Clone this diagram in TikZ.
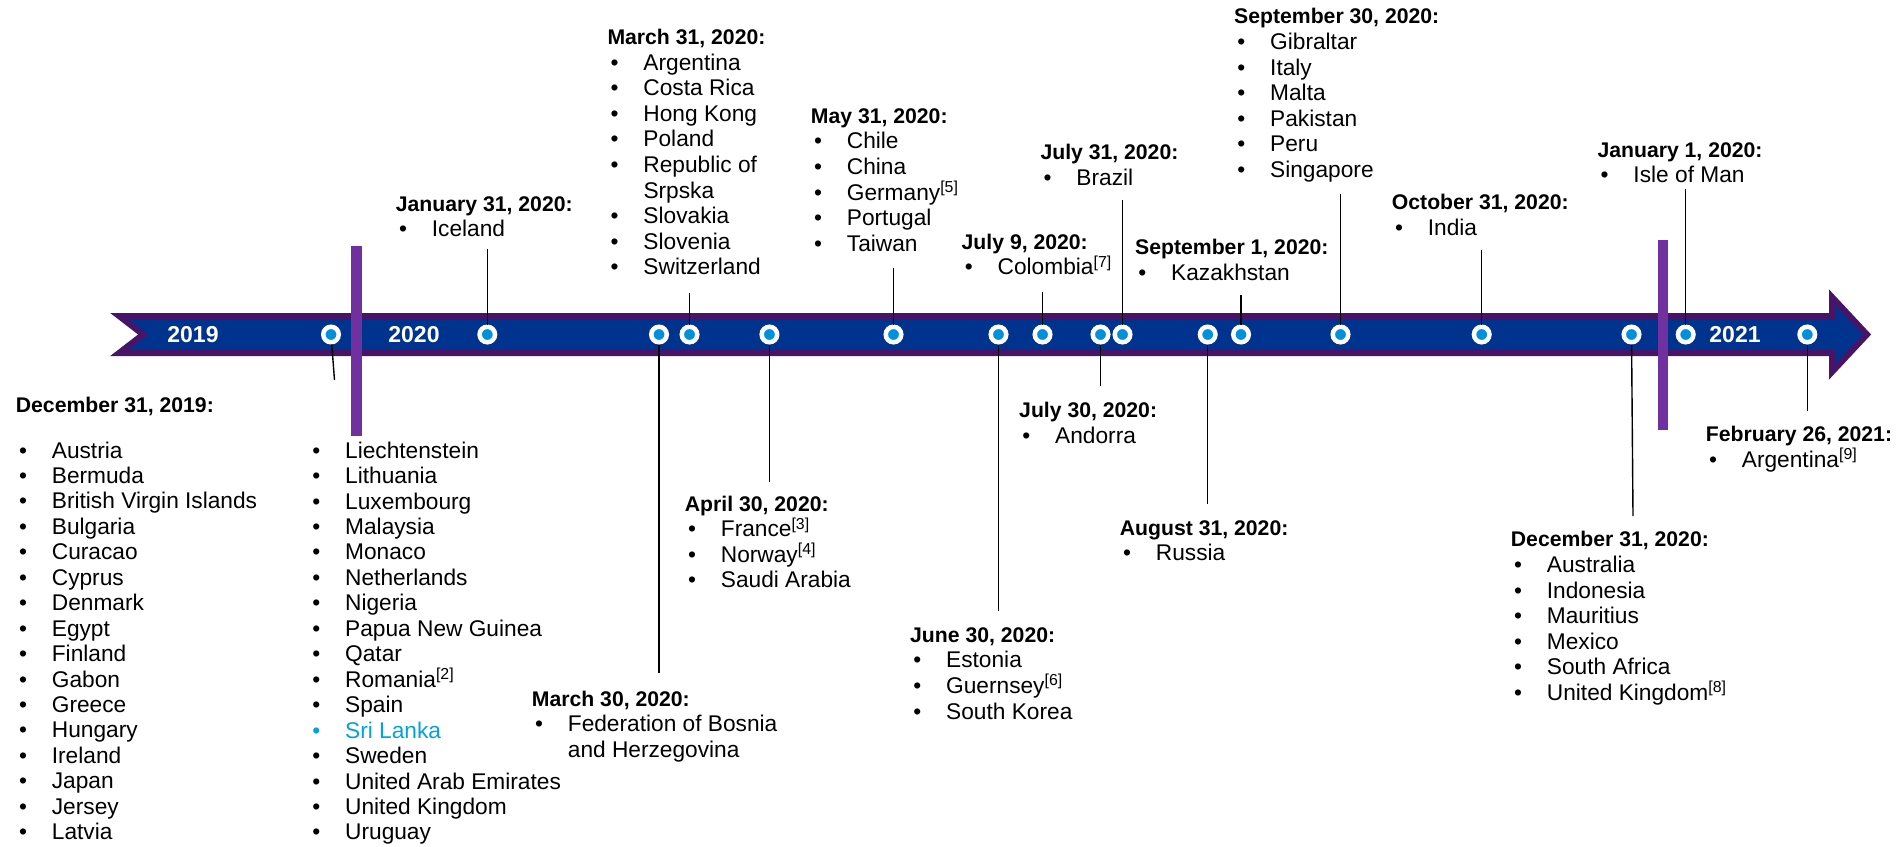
\documentclass[tikz,border=0pt]{standalone}
\usepackage{fontspec}
\setmainfont{Liberation Sans}
\usetikzlibrary{positioning}
\definecolor{kNavy}{RGB}{0,51,141}
\definecolor{kPurple}{RGB}{71,20,104}
\definecolor{kBar}{RGB}{112,48,160}
\definecolor{kDot}{RGB}{0,145,218}
\definecolor{kSky}{RGB}{0,163,224}
\tikzstyle{dateDot} = [circle, minimum size=15.5pt, inner sep=0pt, fill=kDot, draw=white, line width=4.5pt]
\tikzstyle{yearNode} = [text=white, inner sep=0pt, font=\fontsize{23}{27}\selectfont\bfseries]
\tikzstyle{listNode} = [anchor=north west, align=left, inner sep=0pt, font=\fontsize{22.7}{25.6}\selectfont]
\tikzstyle{stem} = [line width=1.4pt, draw=black]
\tikzstyle{yearBar} = [line width=10.5pt, draw=kBar]
\tikzstyle{band} = [fill=kNavy, draw=kPurple, line width=6pt, line join=miter]
\newcommand{\hd}[1]{{\fontsize{21.2}{25.6}\selectfont\bfseries #1}}
\newcommand{\bl}{\hspace*{3.2pt}\makebox[32.8pt][l]{\textbullet}}
\newcommand{\fn}[1]{\textsuperscript{[#1]}}
\begin{document}
\begin{tikzpicture}[x=1pt, y=-1pt]
        \useasboundingbox (0,0) rectangle (1903,846);
        % timeline arrow
        \draw [band] (119,316) -- (1832,316) -- (1832,297) -- (1867,334.5)
            -- (1832,372) -- (1832,353) -- (119,353) -- (143,334.5) -- cycle;
        \draw [yearBar] (356.5,246) -- (356.5,436);
        \draw [yearBar] (1663,240) -- (1663,430);

        \node (y2019) [yearNode] at (193,335) {2019};
        \node (y2020) [yearNode] at (414,335) {2020};
        \node (y2021) [yearNode] at (1735,335) {2021};

        % dates on the timeline
        \node (dDec19) [dateDot] at (331,334.5) {};
        \node (dJan31) [dateDot] at (487.3,334.5) {};
        \node (dMar30) [dateDot] at (659,334.5) {};
        \node (dMar31) [dateDot] at (689.5,334.5) {};
        \node (dApr30) [dateDot] at (769.4,334.5) {};
        \node (dMay31) [dateDot] at (893.5,334.5) {};
        \node (dJun30) [dateDot] at (998.5,334.5) {};
        \node (dJul9) [dateDot] at (1042.5,334.5) {};
        \node (dJul30) [dateDot] at (1100.5,334.5) {};
        \node (dJul31) [dateDot] at (1122.5,334.5) {};
        \node (dAug31) [dateDot] at (1207.7,334.5) {};
        \node (dSep1) [dateDot] at (1241,334.5) {};
        \node (dSep30) [dateDot] at (1340.5,334.5) {};
        \node (dOct31) [dateDot] at (1481.7,334.5) {};
        \node (dDec20) [dateDot] at (1631.5,334.5) {};
        \node (dJan1) [dateDot] at (1685.7,334.5) {};
        \node (dFeb26) [dateDot] at (1807.3,334.5) {};

        % stem ends
        \coordinate (eDec19) at (334.5,380);
        \coordinate (eJan31) at (487.3,249);
        \coordinate (eMar30) at (659,673.3);
        \coordinate (eMar31) at (689.5,293);
        \coordinate (eApr30) at (769.4,482);
        \coordinate (eMay31) at (893.5,268.3);
        \coordinate (eJun30) at (998.5,610.7);
        \coordinate (eJul9) at (1042.5,292);
        \coordinate (eJul30) at (1100.5,386);
        \coordinate (eJul31) at (1122.5,200);
        \coordinate (eAug31) at (1207.7,504);
        \coordinate (eSep1) at (1241,295);
        \coordinate (eSep30) at (1340.5,194.3);
        \coordinate (eOct31) at (1481.7,250);
        \coordinate (eDec20) at (1633,516);
        \coordinate (eJan1) at (1685.7,189);
        \coordinate (eFeb26) at (1807.3,411);

        \draw [stem] (dDec19) -- (eDec19);
        \draw [stem] (dJan31) -- (eJan31);
        \draw [stem] (dMar30) -- (eMar30);
        \draw [stem] (dMar31) -- (eMar31);
        \draw [stem] (dApr30) -- (eApr30);
        \draw [stem] (dMay31) -- (eMay31);
        \draw [stem] (dJun30) -- (eJun30);
        \draw [stem] (dJul9) -- (eJul9);
        \draw [stem] (dJul30) -- (eJul30);
        \draw [stem] (dJul31) -- (eJul31);
        \draw [stem] (dAug31) -- (eAug31);
        \draw [stem] (dSep1) -- (eSep1);
        \draw [stem] (dSep30) -- (eSep30);
        \draw [stem] (dOct31) -- (eOct31);
        \draw [stem] (dDec20) -- (eDec20);
        \draw [stem] (dJan1) -- (eJan1);
        \draw [stem] (dFeb26) -- (eFeb26);

        % country lists
        \node (bDec19) [listNode, font=\fontsize{22.7}{25.45}\selectfont] at (15.7,397.3)
            {\hd{December 31, 2019:}\\[19.7pt]
            \bl Austria\\ \bl Bermuda\\ \bl British Virgin Islands\\ \bl Bulgaria\\
            \bl Curacao\\ \bl Cyprus\\ \bl Denmark\\ \bl Egypt\\ \bl Finland\\
            \bl Gabon\\ \bl Greece\\ \bl Hungary\\ \bl Ireland\\ \bl Japan\\
            \bl Jersey\\ \bl Latvia};
        \node (bDec19b) [listNode, font=\fontsize{22.7}{25.45}\selectfont] at (309,441.5)
            {\bl Liechtenstein\\ \bl Lithuania\\
            \bl Luxembourg\\ \bl Malaysia\\ \bl Monaco\\ \bl Netherlands\\ \bl Nigeria\\
            \bl Papua New Guinea\\ \bl Qatar\\ \bl Romania\fn{2}\\ \bl Spain\\
            {\color{kSky}\bl Sri Lanka}\\ \bl Sweden\\ \bl United Arab Emirates\\
            \bl United Kingdom\\ \bl Uruguay};
        \node (bJan31) [listNode] at (395.7,196.3) {\hd{January 31, 2020:}\\ \bl Iceland};
        \node (bMar31) [listNode] at (607.3,29) {\hd{March 31, 2020:}\\ \bl Argentina\\
            \bl Costa Rica\\ \bl Hong Kong\\ \bl Poland\\ \bl Republic of\\
            \hspace*{36pt}Srpska\\ \bl Slovakia\\ \bl Slovenia\\ \bl Switzerland};
        \node (bMar30) [listNode] at (531.7,690.6) {\hd{March 30, 2020:}\\
            \bl Federation of Bosnia\\ \hspace*{36pt}and Herzegovina};
        \node (bApr30) [listNode] at (684.7,495.6) {\hd{April 30, 2020:}\\
            \bl France\fn{3}\\ \bl Norway\fn{4}\\ \bl Saudi Arabia};
        \node (bMay31) [listNode] at (810.7,108.3) {\hd{May 31, 2020:}\\ \bl Chile\\
            \bl China\\ \bl Germany\fn{5}\\ \bl Portugal\\ \bl Taiwan};
        \node (bJun30) [listNode] at (910,627.3) {\hd{June 30, 2020:}\\ \bl Estonia\\
            \bl Guernsey\fn{6}\\ \bl South Korea};
        \node (bJul9) [listNode] at (961.5,233.8) {\hd{July 9, 2020:}\\ \bl Colombia\fn{7}};
        \node (bJul30) [listNode] at (1019,402.3) {\hd{July 30, 2020:}\\ \bl Andorra};
        \node (bJul31) [listNode] at (1040.3,144) {\hd{July 31, 2020:}\\ \bl Brazil};
        \node (bAug31) [listNode] at (1119.7,520) {\hd{August 31, 2020:}\\ \bl Russia};
        \node (bSep1) [listNode] at (1135,239) {\hd{September 1, 2020:}\\ \bl Kazakhstan};
        \node (bSep30) [listNode] at (1234,8.3) {\hd{September 30, 2020:}\\ \bl Gibraltar\\
            \bl Italy\\ \bl Malta\\ \bl Pakistan\\ \bl Peru\\ \bl Singapore};
        \node (bOct31) [listNode] at (1391.7,194) {\hd{October 31, 2020:}\\ \bl India};
        \node (bDec20) [listNode] at (1510.7,531.3) {\hd{December 31, 2020:}\\
            \bl Australia\\ \bl Indonesia\\ \bl Mauritius\\ \bl Mexico\\
            \bl South Africa\\ \bl United Kingdom\fn{8}};
        \node (bJan1) [listNode] at (1597.3,142.3) {\hd{January 1, 2020:}\\ \bl Isle of Man};
        \node (bFeb26) [listNode] at (1705.7,426.3) {\hd{February 26, 2021:}\\
            \bl Argentina\fn{9}};
    \end{tikzpicture}
\end{document}
